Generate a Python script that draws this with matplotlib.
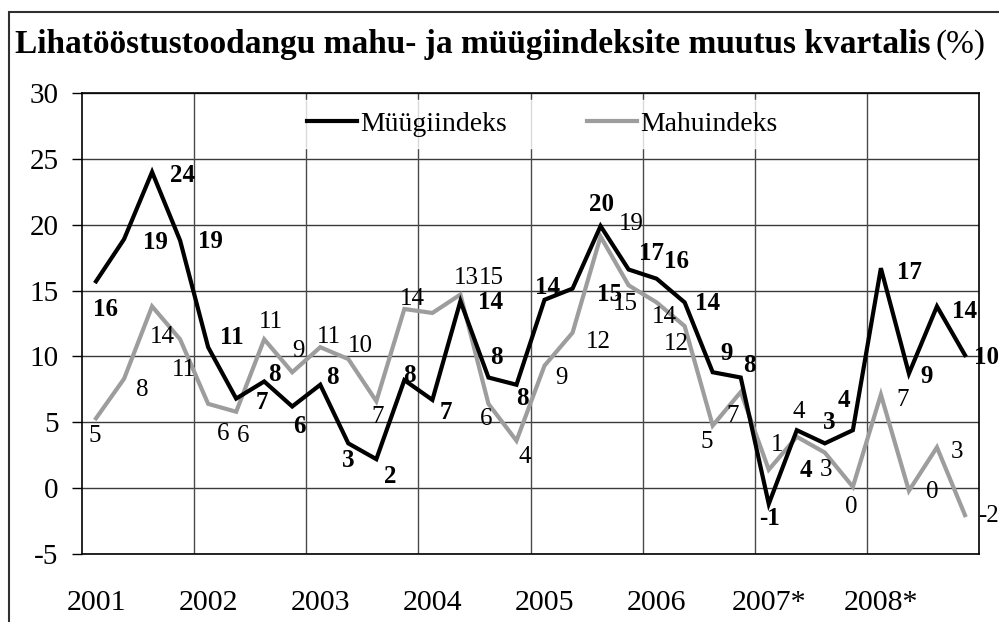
import matplotlib
matplotlib.use("Agg")
import matplotlib.pyplot as plt
from matplotlib.patches import Rectangle

# ---------------- data ----------------
years = ["2001", "2002", "2003", "2004", "2005", "2006", "2007*", "2008*"]
muugiindeks = [15.7, 18.9, 24.0, 18.8, 10.7, 6.8, 8.1, 6.2,
               7.85, 3.4, 2.2, 8.2, 6.7, 14.2, 8.4, 7.85,
               14.3, 15.15, 19.9, 16.6, 15.9, 14.1, 8.8, 8.4,
               -1.2, 4.4, 3.4, 4.4, 16.7, 8.7, 13.8, 10.1]
mahuindeks = [5.3, 8.3, 13.8, 11.3, 6.4, 5.8, 11.3, 8.8,
              10.7, 9.8, 6.6, 13.6, 13.3, 14.7, 6.4, 3.6,
              9.3, 11.8, 19.1, 15.4, 14.1, 12.3, 4.75, 7.3,
              1.4, 3.9, 2.7, 0.1, 7.1, -0.2, 3.1, -2.05]
series_names = ["Müügiindeks", "Mahuindeks"]
title_bold = "Lihatööstustoodangu mahu- ja müügiindeksite muutus kvartalis"
title_unit = "(%)"

# label offsets (pixels, dx right, dy down)
off_b = [(9, 28), (31, 3), (30, 3), (30, 1), (24, -10), (26, 4), (10, -7), (7, 20),
         (12, -7), (0, 17), (14, 17), (5, -5), (13, 13), (30, 1), (8, -20), (6, 14),
         (3, -12), (37, 6), (1, -22), (23, -16), (20, -17), (23, 1), (14, -19), (9, -12),
         (1, 15), (9, 40), (4, -21), (-9, -30), (29, 4), (18, 3), (28, 5), (22, 2)]
off_g = [(-1, 18), (18, 11), (10, 31), (4, 31), (15, 30), (7, 24), (7, -17), (6, -21),
         (9, -10), (12, -13), (1, 16), (8, -10), (34, -35), (31, -17), (-2, 15), (8, 16),
         (17, 12), (26, 9), (31, -13), (-3, 19), (8, 15), (-8, 18), (-6, 16), (-8, 24),
         (8, -25), (2, -25), (1, 17), (-2, 20), (22, 5), (23, 1), (20, 5), (24, 1)]

plt.rcParams['font.family'] = ['Liberation Serif', 'DejaVu Serif']
plt.rcParams['axes.unicode_minus'] = False

W, H = 999, 622
fig = plt.figure(figsize=(W / 100, H / 100), dpi=100)
ax = fig.add_axes([82 / W, 1 - 554 / H, (979 - 82) / W, (554 - 93) / H])

x = list(range(len(muugiindeks)))
ax.plot(x, muugiindeks, color='black', lw=3.0, zorder=4, solid_joinstyle='miter',
        label=series_names[0])
ax.plot(x, mahuindeks, color='#9d9d9d', lw=3.0, zorder=3, solid_joinstyle='miter',
        label=series_names[1])

for i, v in enumerate(muugiindeks):
    dx, dy = off_b[i]
    ax.annotate(f"{round(v):d}", (i, v), xytext=(dx * 0.72, -dy * 0.72),
                textcoords='offset points', ha='center', va='center',
                fontsize=18, fontweight='bold', color='black', zorder=6)
for i, v in enumerate(mahuindeks):
    dx, dy = off_g[i]
    ax.annotate(f"{round(v):d}", (i, v), xytext=(dx * 0.72, -dy * 0.72),
                textcoords='offset points', ha='center', va='center',
                fontsize=18, color='black', zorder=6)

ax.set_xlim(-0.5, len(x) - 0.5)
ax.set_ylim(-5, 30)
ax.set_yticks(range(-5, 31, 5))
ax.set_xticks(range(0, len(x), 4))
ax.set_xticklabels(years)
ax.tick_params(axis='x', length=0, pad=26, labelsize=21.5)
ax.tick_params(axis='y', length=7, width=1, pad=10, labelsize=21, direction='out')

# grid
ax.set_axisbelow(True)
for yv in range(-5, 31, 5):
    ax.axhline(yv, color='#3a3a3a', lw=1.0, zorder=1)
for k in range(1, len(years)):
    ax.axvline(4 * k - 0.5, color='#4a4a4a', lw=1.0, zorder=1)
for s in ax.spines.values():
    s.set_color('black')
    s.set_linewidth(1.2)

leg = ax.legend(loc='center', bbox_to_anchor=(0.513, 0.933), ncol=2, frameon=True,
                fontsize=20, handlelength=1.8, columnspacing=2.9, handletextpad=0.1,
                borderpad=0.4, fancybox=False)
leg.get_frame().set_facecolor('white')
leg.get_frame().set_edgecolor('white')
leg.set_zorder(5)

# outer frame
fig.patches.append(Rectangle((9 / W, -0.1), 1.2, 1.1 - 12 / H, transform=fig.transFigure,
                             fill=False, edgecolor='#303030', lw=1.5, clip_on=False))

# title
t1 = fig.text(15 / W, 1 - 45 / H, title_bold, fontsize=24, fontweight='bold',
              ha='left', va='center')
fig.canvas.draw()
bb = t1.get_window_extent(renderer=fig.canvas.get_renderer())
fig.text((bb.x1 + 5) / W, 1 - 45 / H, title_unit, fontsize=24, ha='left', va='center')

fig.savefig("out.png", dpi=100)
